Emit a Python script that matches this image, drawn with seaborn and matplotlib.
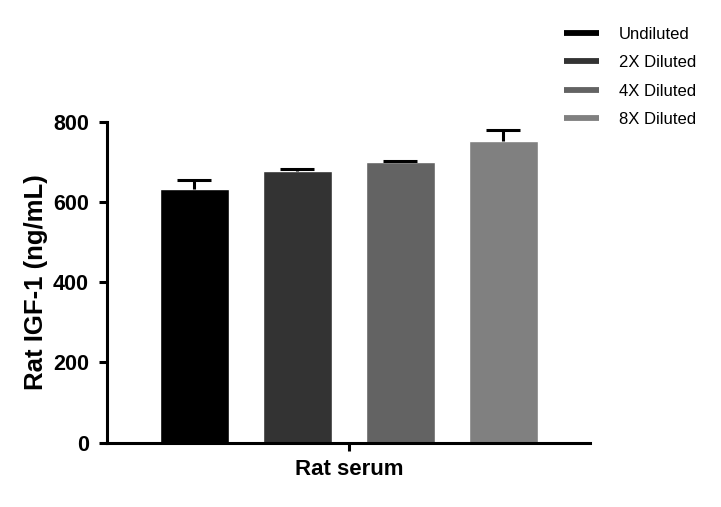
import numpy as np
import pandas as pd
import matplotlib
matplotlib.use("Agg")
import matplotlib.pyplot as plt
from matplotlib.lines import Line2D
import seaborn as sns

# values
groups = ["Undiluted", "2X Diluted", "4X Diluted", "8X Diluted"]
sample = ["Rat serum"] * 4
means = [633, 678, 701, 753]
errs = [23, 5, 2, 26]
colors = ["#000000", "#333333", "#636363", "#808080"]
yticks = [0, 200, 400, 600, 800]

sns.set_theme(style="ticks")
plt.rcParams["font.family"] = ["Liberation Sans", "DejaVu Sans"]
for k in ["text.color", "axes.labelcolor", "xtick.color", "ytick.color"]:
    plt.rcParams[k] = "black"

df = pd.DataFrame({"sample": sample, "group": groups, "value": means})

fig = plt.figure(figsize=(7.21, 5.07), dpi=100)
ax = fig.add_axes([0.1484, 0.1272, 0.6706, 0.6322])

sns.barplot(data=df, x="sample", y="value", hue="group", hue_order=groups,
            palette=colors, width=0.8, gap=0.33, errorbar=None,
            saturation=1, ax=ax, legend=False)

# upper-only error bars at the bar centres
bars = sorted(ax.patches[:len(groups)], key=lambda p: p.get_x())
xs = [p.get_x() + p.get_width() / 2 for p in bars]
eb = ax.errorbar(xs, means, yerr=[np.zeros(len(errs)), errs], fmt="none",
                 ecolor="black", elinewidth=2.2, capsize=12.5, capthick=2.2,
                 zorder=1)
eb[1][0].set_visible(False)  # drop the lower caps

ax.set_xlim(-0.4695, 0.469)
ax.set_ylim(0, 800)
ax.set_yticks(yticks)
ax.set_ylabel("Rat IGF-1 (ng/mL)", fontsize=18.5, fontweight="bold", labelpad=3.5)
ax.set_xlabel("")
for lab in ax.get_yticklabels():
    lab.set_fontweight("bold")
    lab.set_fontsize(15.5)
for lab in ax.get_xticklabels():
    lab.set_fontweight("bold")
    lab.set_fontsize(16)

sns.despine(ax=ax)
for s in ["left", "bottom"]:
    ax.spines[s].set_linewidth(2.2)
    ax.spines[s].set_color("black")
ax.tick_params(axis="both", width=2.2, length=6, color="black")
ax.tick_params(axis="y", pad=7)
ax.tick_params(axis="x", pad=6)

handles = [Line2D([0], [0], color=c, lw=4.2, solid_capstyle="butt") for c in colors]
fig.legend(handles, groups, loc="upper left", bbox_to_anchor=(0.782, 0.947),
           frameon=False, fontsize=12, handlelength=2.1, handletextpad=1.2,
           labelspacing=0.8, borderpad=0, borderaxespad=0)

fig.savefig("out.png", dpi=100)
